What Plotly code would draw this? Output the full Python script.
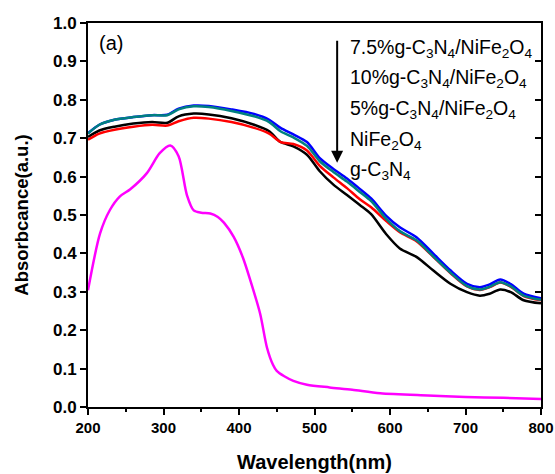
import plotly.graph_objects as go

# Wavelengths (nm) for the composite / NiFe2O4 spectra
wl = [200, 215, 235, 260, 285, 305, 320, 340, 360, 390, 420, 440, 455, 472, 490, 507,
      525, 543, 560, 575, 595, 613, 635, 657, 680, 702, 719, 732, 746, 760, 777, 800]

abs_75 = [0.713, 0.735, 0.748, 0.755, 0.760, 0.761, 0.777, 0.785, 0.784, 0.775, 0.763, 0.748,
          0.727, 0.710, 0.690, 0.648, 0.620, 0.595, 0.568, 0.543, 0.498, 0.468, 0.442, 0.400,
          0.356, 0.321, 0.312, 0.319, 0.332, 0.320, 0.295, 0.283]
abs_10 = [0.712, 0.735, 0.748, 0.755, 0.760, 0.760, 0.775, 0.783, 0.781, 0.771, 0.757, 0.742,
          0.718, 0.702, 0.680, 0.640, 0.612, 0.587, 0.560, 0.536, 0.490, 0.458, 0.434, 0.393,
          0.350, 0.315, 0.306, 0.313, 0.325, 0.314, 0.290, 0.279]
abs_5 = [0.696, 0.712, 0.722, 0.730, 0.735, 0.733, 0.744, 0.753, 0.751, 0.742, 0.727, 0.712,
         0.690, 0.685, 0.668, 0.628, 0.598, 0.570, 0.541, 0.520, 0.484, 0.455, 0.432, 0.392,
         0.349, 0.314, 0.305, 0.312, 0.324, 0.313, 0.289, 0.278]
abs_nfo = [0.703, 0.720, 0.730, 0.738, 0.742, 0.740, 0.757, 0.764, 0.762, 0.752, 0.735, 0.718,
           0.690, 0.679, 0.657, 0.614, 0.579, 0.552, 0.526, 0.502, 0.450, 0.413, 0.391, 0.356,
           0.321, 0.299, 0.290, 0.295, 0.306, 0.299, 0.278, 0.270]

# g-C3N4 spectrum
wl_g = [200, 216, 229, 242, 256, 278, 295, 309, 320, 331, 340, 350, 362, 372, 380, 393,
        405, 415, 428, 437, 445, 450, 460, 472, 490, 520, 550, 587, 650, 700, 750, 800]
abs_g = [0.304, 0.452, 0.513, 0.548, 0.567, 0.609, 0.661, 0.681, 0.653, 0.552, 0.512, 0.506,
         0.504, 0.495, 0.480, 0.443, 0.390, 0.330, 0.243, 0.155, 0.110, 0.094, 0.080, 0.068,
         0.058, 0.051, 0.045, 0.036, 0.030, 0.026, 0.024, 0.021]

legend_labels = ["7.5%g-C<sub>3</sub>N<sub>4</sub>/NiFe<sub>2</sub>O<sub>4</sub>",
                 "10%g-C<sub>3</sub>N<sub>4</sub>/NiFe<sub>2</sub>O<sub>4</sub>",
                 "5%g-C<sub>3</sub>N<sub>4</sub>/NiFe<sub>2</sub>O<sub>4</sub>",
                 "NiFe<sub>2</sub>O<sub>4</sub>",
                 "g-C<sub>3</sub>N<sub>4</sub>"]

x_ticks = [200, 300, 400, 500, 600, 700, 800]
y_ticks = [0.0, 0.1, 0.2, 0.3, 0.4, 0.5, 0.6, 0.7, 0.8, 0.9, 1.0]

FONT = "Liberation Sans, Arial"

fig = go.Figure()
series = [
    (wl_g, abs_g, "#FF00FF", legend_labels[4]),
    (wl, abs_nfo, "#000000", legend_labels[3]),
    (wl, abs_5, "#FF0000", legend_labels[2]),
    (wl, abs_75, "#0000FF", legend_labels[0]),
    (wl, abs_10, "#008080", legend_labels[1]),
]
for x, y, c, name in series:
    fig.add_trace(go.Scatter(x=x, y=y, mode="lines", name=name,
                             line=dict(color=c, width=2.5, shape="spline", smoothing=0.8),
                             showlegend=False))

# invisible trace to bring in right mirror axis
fig.add_trace(go.Scatter(x=[200, 800], y=[0, 1], yaxis="y2", mode="lines",
                         line=dict(color="rgba(0,0,0,0)"), showlegend=False, hoverinfo="skip"))

fig.update_layout(
    width=555, height=474,
    margin=dict(l=88, r=14, t=23, b=67),
    paper_bgcolor="white", plot_bgcolor="white",
    font=dict(family=FONT, color="black"),
    xaxis=dict(range=[200, 800], tickvals=x_ticks, ticktext=[f"<b>{v}</b>" for v in x_ticks],
               showgrid=False, zeroline=False, automargin=False,
               showline=True, linecolor="black", linewidth=2, mirror=True,
               ticks="outside", ticklen=6, tickwidth=2, tickcolor="black",
               minor=dict(dtick=50, tick0=200, ticks="outside", ticklen=3, tickwidth=2,
                          tickcolor="black"),
               tickfont=dict(family=FONT, size=15, color="black"),
               title=dict(text="<b>Wavelength(nm)</b>", standoff=20,
                          font=dict(family=FONT, size=20, color="black"))),
    yaxis=dict(range=[0, 1.0], tickvals=y_ticks, ticktext=[f"<b>{v:.1f}</b>" for v in y_ticks],
               showgrid=False, automargin=False,
               zeroline=False, showline=True, linecolor="black", linewidth=2,
               ticks="outside", ticklen=6, tickwidth=2, tickcolor="black",
               tickfont=dict(family=FONT, size=17, color="black"),
               title=dict(text="<b>Absorbcance(a.u.)</b>", standoff=19,
                          font=dict(family=FONT, size=18.5, color="black"))),
    yaxis2=dict(range=[0, 1.0], dtick=0.1, tick0=0, overlaying="y", side="right",
                showgrid=False, zeroline=False, showline=True, linecolor="black", linewidth=2,
                ticks="inside", ticklen=6, tickwidth=2, tickcolor="black",
                showticklabels=False, automargin=False),
)

# legend text
ys = [0.934, 0.856, 0.776, 0.695, 0.617]
for lab, yy in zip(legend_labels, ys):
    fig.add_annotation(text=lab, xref="paper", yref="paper", x=0.575, y=yy,
                       xanchor="left", yanchor="middle", showarrow=False,
                       font=dict(family=FONT, size=19.5, color="black"))

# arrow
fig.add_annotation(x=530, y=0.636, xref="x", yref="y", ax=530, ay=0.976,
                   axref="x", ayref="y", showarrow=True, arrowhead=2, arrowsize=1.2,
                   arrowwidth=2, arrowcolor="black", text=" ")

fig.add_annotation(text="(a)", xref="paper", yref="paper", x=0.02, y=0.948,
                   xanchor="left", yanchor="middle", showarrow=False,
                   font=dict(family=FONT, size=20, color="black"))

fig.write_html("out.html")
